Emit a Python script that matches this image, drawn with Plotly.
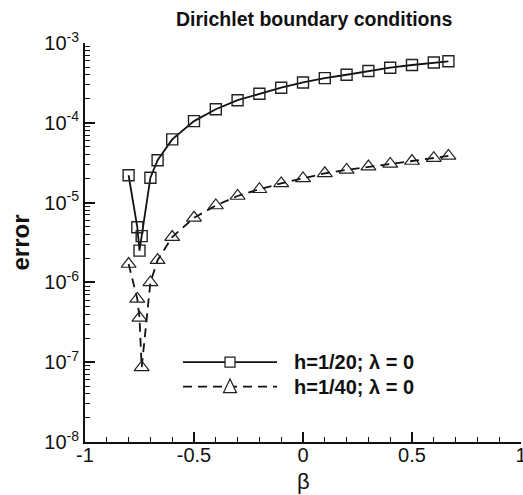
import plotly.graph_objects as go

# ---- data ----
beta_h20 = [-0.8, -0.76, -0.75, -0.74, -0.7, -0.667, -0.6, -0.5, -0.4, -0.3, -0.2, -0.1,
            0.0, 0.1, 0.2, 0.3, 0.4, 0.5, 0.6, 0.667]
err_h20 = [2.2e-5, 4.9e-6, 2.5e-6, 3.8e-6, 2.05e-5, 3.4e-5, 6.2e-5, 1.05e-4, 1.48e-4,
           1.92e-4, 2.31e-4, 2.75e-4, 3.2e-4, 3.63e-4, 4.0e-4, 4.45e-4, 4.9e-4,
           5.3e-4, 5.7e-4, 5.9e-4]

beta_h40 = [-0.8, -0.76, -0.75, -0.74, -0.7, -0.667, -0.6, -0.5, -0.4, -0.3, -0.2, -0.1,
            0.0, 0.1, 0.2, 0.3, 0.4, 0.5, 0.6, 0.667]
err_h40 = [1.7e-6, 6.2e-7, 3.6e-7, 8.6e-8, 1.0e-6, 1.9e-6, 3.7e-6, 6.45e-6, 9.2e-6,
           1.21e-5, 1.47e-5, 1.74e-5, 2.01e-5, 2.33e-5, 2.57e-5, 2.83e-5, 3.05e-5,
           3.32e-5, 3.6e-5, 3.84e-5]

series_names = ["h=1/20; λ = 0", "h=1/40; λ = 0"]
y_tickvals = [1e-8, 1e-7, 1e-6, 1e-5, 1e-4, 1e-3]
y_ticktext = ["10<sup>-8</sup>", "10<sup>-7</sup>", "10<sup>-6</sup>",
              "10<sup>-5</sup>", "10<sup>-4</sup>", "10<sup>-3</sup>"]
x_tickvals = [-1, -0.5, 0, 0.5, 1]
x_ticktext = ["-1", "-0.5", "0", "0.5", "1"]

FONT = "Liberation Sans, Arial, sans-serif"

fig = go.Figure()
fig.add_trace(go.Scatter(
    x=beta_h20, y=err_h20, mode="lines+markers", name=series_names[0],
    line=dict(color="#111111", width=1.8),
    marker=dict(symbol="square-open", size=11, color="#222222", line=dict(width=1.4)),
    showlegend=False))
fig.add_trace(go.Scatter(
    x=beta_h40, y=err_h40, mode="lines+markers", name=series_names[1],
    line=dict(color="#111111", width=1.8, dash="9px,6px"),
    marker=dict(symbol="triangle-up-open", size=13, color="#222222", line=dict(width=1.2)),
    showlegend=False))

# ---- manual legend (paper coords) ----
shapes = []
annotations = []
lx0, lx1, lmx, ltx = 0.2248, 0.4404, 0.3326, 0.4748
rows = [0.200, 0.1386]
dx, dy = 5 / 436, 5 / 398.4
shapes.append(dict(type="line", xref="paper", yref="paper", x0=lx0, x1=lx1,
                   y0=rows[0], y1=rows[0], line=dict(color="#111111", width=1.8)))
shapes.append(dict(type="rect", xref="paper", yref="paper", x0=lmx - dx, x1=lmx + dx,
                   y0=rows[0] - dy, y1=rows[0] + dy,
                   line=dict(color="#222222", width=1.3), fillcolor="white"))
shapes.append(dict(type="line", xref="paper", yref="paper", x0=lx0, x1=lx1,
                   y0=rows[1], y1=rows[1], line=dict(color="#111111", width=1.8, dash="9px,6px")))
tx, ty = 6.5 / 436, 6 / 398.4
p = (f"M {lmx - tx} {rows[1] - ty} L {lmx + tx} {rows[1] - ty} "
     f"L {lmx} {rows[1] + ty * 1.3} Z")
shapes.append(dict(type="path", xref="paper", yref="paper", path=p,
                   line=dict(color="#222222", width=1.2), fillcolor="white"))
for r, name in zip(rows, series_names):
    annotations.append(dict(x=ltx, y=r, xref="paper", yref="paper", text=f"<b>{name}</b>",
                            showarrow=False, xanchor="left", yanchor="middle",
                            font=dict(family=FONT, size=20, color="#111111")))

annotations.append(dict(x=0.525, y=1.061, xref="paper", yref="paper",
                        text="<b>Dirichlet boundary conditions</b>", showarrow=False,
                        xanchor="center", yanchor="middle",
                        font=dict(family=FONT, size=19.5, color="#111111")))
annotations.append(dict(x=-0.149, y=0.5, xref="paper", yref="paper", text="<b>error</b>",
                        showarrow=False, textangle=-90, xanchor="center", yanchor="middle",
                        font=dict(family=FONT, size=24, color="#111111")))
annotations.append(dict(x=0.5, y=-0.098, xref="paper", yref="paper", text="β",
                        showarrow=False, xanchor="center", yanchor="middle",
                        font=dict(family=FONT, size=22, color="#111111")))

fig.update_layout(
    width=523, height=495,
    margin=dict(l=85, r=2, t=43, b=53, autoexpand=False),
    paper_bgcolor="white", plot_bgcolor="white",
    font=dict(family=FONT, size=20, color="#111111"),
    shapes=shapes, annotations=annotations,
    showlegend=False,
)
fig.update_xaxes(range=[-1, 1], tickvals=x_tickvals, ticktext=x_ticktext,
                 ticks="inside", ticklen=10, tickwidth=2, tickcolor="#111111",
                 showline=True, linewidth=2, linecolor="#111111", mirror=False,
                 showgrid=False, zeroline=False, automargin=False,
                 ticklabeloverflow="allow", ticklabelstandoff=-6,
                 tickfont=dict(family=FONT, size=20, color="#111111"),
                 minor=dict(dtick=0.1, tick0=0, ticks="inside", ticklen=5,
                            tickwidth=1, tickcolor="#111111", showgrid=False))
fig.update_yaxes(type="log", range=[-8, -3], tickvals=y_tickvals, ticktext=y_ticktext,
                 ticks="inside", ticklen=10, tickwidth=2, tickcolor="#111111",
                 showline=True, linewidth=2, linecolor="#111111", mirror=False,
                 showgrid=False, zeroline=False, automargin=False,
                 ticklabeloverflow="allow",
                 tickfont=dict(family=FONT, size=20, color="#111111"),
                 minor=dict(dtick="D1", ticks="inside", ticklen=5,
                            tickwidth=1, tickcolor="#111111", showgrid=False))

fig.write_html("out.html", config={"displayModeBar": False},
               post_script="document.body.style.margin='0';document.body.style.padding='0';")
